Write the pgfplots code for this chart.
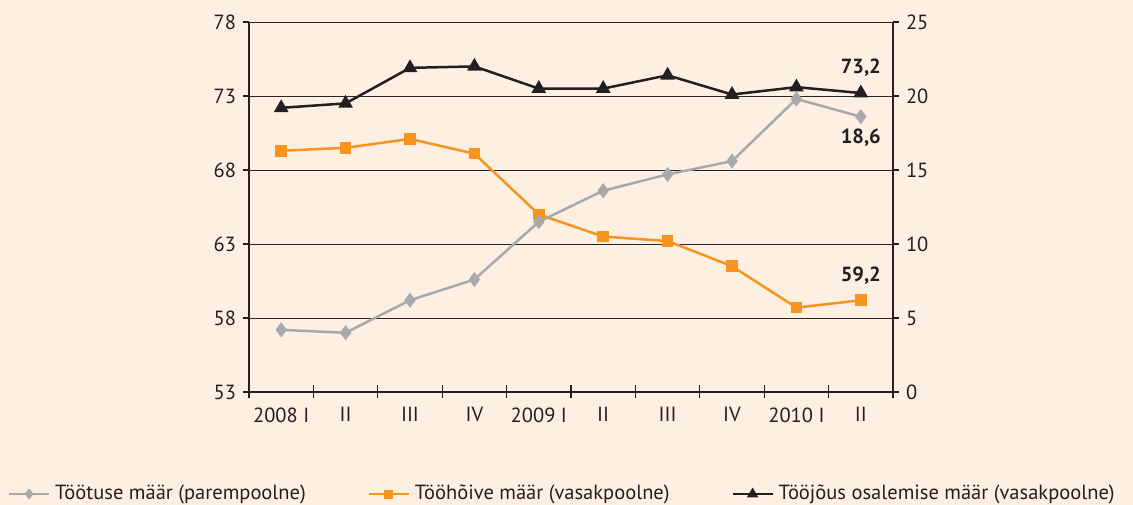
\documentclass[border=0pt]{standalone}
\usepackage{fontspec}
\setmainfont{PT Sans}
\usepackage{pgfplots}
\pgfplotsset{compat=1.18}
\definecolor{bg}{HTML}{FDF0E2}
\definecolor{cgray}{HTML}{A7A9AC}
\definecolor{corange}{HTML}{F7941D}
\definecolor{cblack}{HTML}{231F20}
\begin{document}
\fontsize{20.5}{24}\selectfont
\begin{tikzpicture}
\fill[bg] (0pt,0pt) rectangle (1133pt,505pt);
\useasboundingbox (0pt,0pt) rectangle (1133pt,505pt);
\pgfplotsset{
  common/.style={
    at={(249pt,113pt)}, anchor=south west, scale only axis,
    width=644pt, height=370pt,
    xmin=-0.5, xmax=9.5,
    /pgf/number format/assume math mode=true,
    tick label style={text=cblack, font=\fontsize{20.5}{24}\selectfont},
    axis line style={cblack, line width=1.2pt},
    clip=false,
  }
}
\begin{axis}[common,
  axis x line*=bottom, axis y line*=left,
  ymin=53, ymax=78, ytick={53,58,63,68,73,78},
  ymajorgrids, grid style={black!85, line width=0.8pt},
  xtick={-0.5,0.5,1.5,2.5,3.5,4.5,5.5,6.5,7.5,8.5,9.5},
  xticklabels={2008 I, II, III, IV, 2009 I, II, III, IV, 2010 I, II},
  x tick label as interval,
  major tick length=13pt,
  xtick align=center,
  x tick style={draw=cblack, line width=1.2pt},
  y tick style={draw=none},
  ytick align=inside,
  yticklabel style={xshift=-6pt},
  xticklabel style={yshift=-2pt},
]
\addplot[corange, line width=2.5pt, mark=square*, mark size=4.5pt] coordinates {
(0,69.3)(1,69.5)(2,70.1)(3,69.1)(4,65.0)(5,63.5)(6,63.2)(7,61.5)(8,58.7)(9,59.2)};
\addplot[cblack, line width=2.5pt, mark=triangle*, mark size=6pt] coordinates {
(0,72.2)(1,72.5)(2,74.9)(3,75.0)(4,73.5)(5,73.5)(6,74.4)(7,73.1)(8,73.6)(9,73.2)};
\node[font=\bfseries\fontsize{20.5}{24}\selectfont, text=cblack] at (axis cs:9,74.9) {73,2};
\node[font=\bfseries\fontsize{20.5}{24}\selectfont, text=cblack] at (axis cs:9,70.16) {18,6};
\node[font=\bfseries\fontsize{20.5}{24}\selectfont, text=cblack] at (axis cs:9,60.84) {59,2};
\end{axis}
\begin{axis}[common,
  hide x axis,
  ymin=0, ymax=25, ytick={0,5,10,15,20,25},
  ytick pos=both, yticklabel pos=right,
  ytick align=outside, major tick length=6pt,
  y tick style={draw=cblack, line width=1.2pt},
  legend columns=3,
  legend style={at={(axis description cs:-0.379,-0.2757)}, anchor=west,
    draw=none, fill=none, text=cblack,
    font=\fontsize{20.5}{24}\selectfont,
    /tikz/every odd column/.append style={column sep=3pt},
    /tikz/every even column/.append style={column sep=60pt}},
  legend image code/.code={\draw[mark repeat=2,mark phase=2] plot coordinates {(0pt,0pt) (20pt,0pt) (40pt,0pt)};},
]
\addplot[cgray, line width=2.5pt, mark=diamond*, mark size=5.5pt, forget plot] coordinates {
(0,4.2)(1,4.0)(2,6.2)(3,7.6)(4,11.5)(5,13.6)(6,14.7)(7,15.6)(8,19.8)(9,18.6)};
\addlegendimage{cgray, line width=2pt, mark=diamond*, mark size=4pt}
\addlegendimage{corange, line width=2pt, mark=square*, mark size=3.5pt}
\addlegendimage{cblack, line width=2pt, mark=triangle*, mark size=4.5pt}
\legend{Töötuse määr (parempoolne), Tööhõive määr (vasakpoolne), Tööjõus osalemise määr (vasakpoolne)}
\end{axis}
\end{tikzpicture}
\end{document}
